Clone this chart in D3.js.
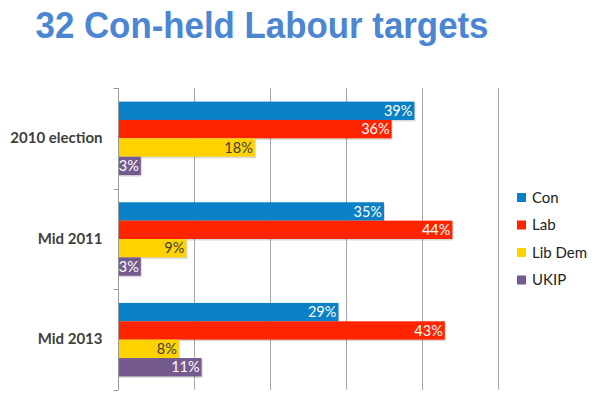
<!DOCTYPE html>
<html><head><meta charset="utf-8">
<script src="https://cdn.jsdelivr.net/npm/d3@7"></script>
<style>body{margin:0;background:#fff}svg{display:block}</style>
</head><body>
<svg id="c" width="600" height="404"></svg>
<script>
const categories = ["2010 election", "Mid 2011", "Mid 2013"];
const parties = ["Con", "Lab", "Lib Dem", "UKIP"];
const con = [39, 35, 29];
const lab = [36, 44, 43];
const libdem = [18, 9, 8];
const ukip = [3, 3, 11];
const xTicks = [0, 10, 20, 30, 40, 50];
const colors = ["#0A80C6", "#FF2400", "#FFD200", "#755A8F"];
const labelColors = ["#fff", "#fff", "#404040", "#fff"];

const series = [con, lab, libdem, ukip];
const svg = d3.select("#c");

svg.append("text").attr("x", 262).attr("y", 38).attr("text-anchor", "middle")
  .attr("font-family", "Liberation Sans, Arial, sans-serif").attr("font-weight", "bold")
  .attr("font-size", 37).attr("textLength", 453).attr("lengthAdjust", "spacingAndGlyphs")
  .attr("fill", "#4A86D1").text("32 Con-held Labour targets");

const x = d3.scaleLinear().domain([0, 50]).range([118, 498]);
const y0 = d3.scaleBand().domain(categories).range([88, 390]).paddingInner(0.27).paddingOuter(0.135);
const y1 = d3.scaleBand().domain(parties).range([0, y0.bandwidth()]);
const yb = d3.scaleBand().domain(categories).range([88, 390]);

// gridlines
svg.append("g").selectAll("line").data(xTicks.slice(1)).join("line")
  .attr("x1", d => Math.round(x(d)) + 0.5).attr("x2", d => Math.round(x(d)) + 0.5)
  .attr("y1", 88).attr("y2", 390).attr("stroke", "#A6A6A6").attr("stroke-width", 1);

// bars
const groups = svg.append("g").selectAll("g").data(categories).join("g")
  .attr("transform", d => `translate(0,${y0(d)})`);
const rows = (ci) => parties.map((p, si) => ({p, si, v: series[si][ci]}));
groups.each(function(cat, ci) {
  const g = d3.select(this);
  const data = rows(ci);
  g.selectAll("rect.sh").data(data).join("rect").attr("class", "sh")
    .attr("x", x(0) + 1).attr("y", d => y1(d.p) + 1.5)
    .attr("width", d => x(d.v) - x(0)).attr("height", y1.bandwidth())
    .attr("fill", "#000").attr("opacity", 0.15);
  g.selectAll("rect.b").data(data).join("rect").attr("class", "b")
    .attr("x", x(0)).attr("y", d => y1(d.p))
    .attr("width", d => x(d.v) - x(0)).attr("height", y1.bandwidth())
    .attr("fill", d => colors[d.si]);
  g.selectAll("text").data(data).join("text")
    .attr("x", d => x(d.v) - 2).attr("y", d => y1(d.p) + y1.bandwidth() / 2)
    .attr("dy", "0.36em").attr("text-anchor", "end")
    .attr("font-family", "Lato, Open Sans, sans-serif").attr("font-size", 14.5)
    .attr("fill", d => labelColors[d.si]).text(d => d.v + "%");
});

// y axis
const yAxis = d3.axisLeft(yb).tickSize(0).tickPadding(16);
const ag = svg.append("g").attr("transform", "translate(118.5,0)").call(yAxis);
ag.select(".domain").attr("stroke", "#999").attr("d", "M0,88V390");
ag.selectAll("text").attr("font-family", "Lato, Open Sans, sans-serif").attr("font-weight", "bold")
  .attr("font-size", 15).attr("fill", "#404040");
// boundary ticks
const bounds = categories.map(c => yb(c)).concat([390]);
ag.append("g").selectAll("line").data(bounds).join("line")
  .attr("x1", -5).attr("x2", 0).attr("y1", d => Math.round(d) + 0.5).attr("y2", d => Math.round(d) + 0.5)
  .attr("stroke", "#999");

// legend
const lg = svg.append("g").selectAll("g").data(parties).join("g")
  .attr("transform", (d, i) => `translate(517,${197.5 + i * 27.5})`);
lg.append("rect").attr("x", 0).attr("y", -4.5).attr("width", 9).attr("height", 9)
  .attr("fill", (d, i) => colors[i]);
lg.append("text").attr("x", 15).attr("y", 0).attr("dy", "0.36em")
  .attr("font-family", "Lato, Open Sans, sans-serif").attr("font-size", 15).attr("fill", "#222")
  .text(d => d);
</script>
</body></html>
